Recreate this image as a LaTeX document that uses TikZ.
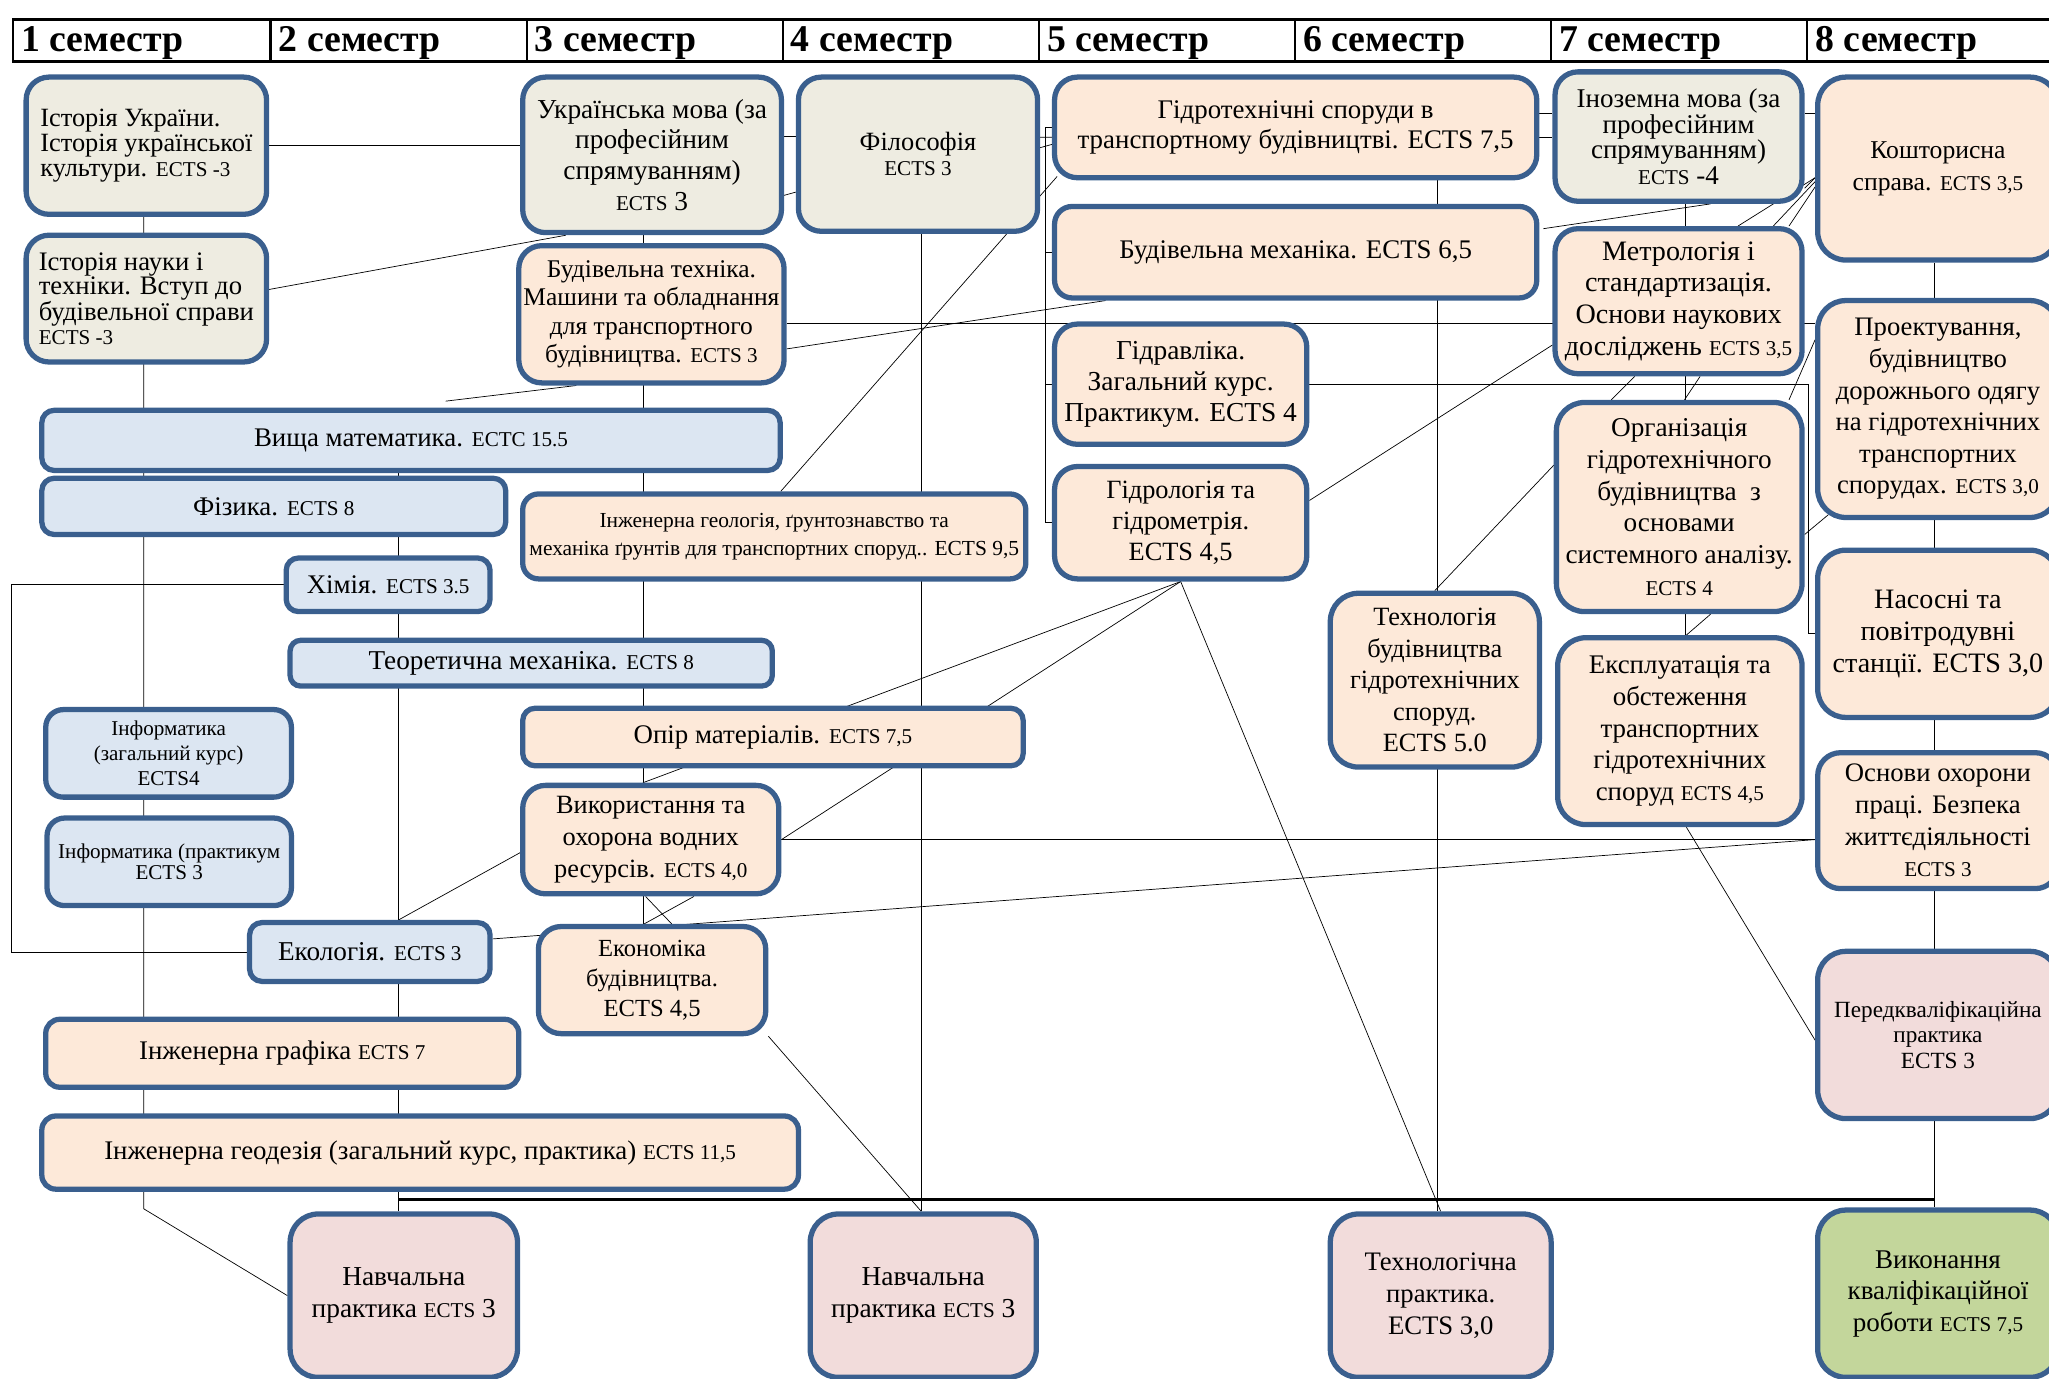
\documentclass[tikz,border=0pt]{standalone}
\usepackage{fontspec}
\setmainfont{Liberation Serif}
\usetikzlibrary{backgrounds}

\definecolor{kraj}{HTML}{3A5F8E}
\definecolor{zagfill}{HTML}{EEECE1}
\definecolor{proffill}{HTML}{FDE9D9}
\definecolor{fundfill}{HTML}{DCE6F2}
\definecolor{praktfill}{HTML}{F2DCDB}
\definecolor{atestfill}{HTML}{C3D69B}

\newcommand{\kfont}[2]{\fontsize{#1}{#2}\selectfont}
\newcommand{\ectsf}{\fontsize{12}{14}\selectfont}
\newcommand{\ed}{0.026136cm}

\tikzset{
    kurs/.style={draw=kraj, line width=3pt, rounded corners=#1, inner sep=0pt, align=center, font=\kfont{15.3}{18}},
    kurs/.default=13pt,
    razm/.style 2 args={minimum width=#1*\ed, minimum height=#2*\ed},
    zag/.style={fill=zagfill},
    prof/.style={fill=proffill},
    fund/.style={fill=fundfill},
    prakt/.style={fill=praktfill},
    atest/.style={fill=atestfill},
    zv/.style={line width=0.9pt},
    sem/.style={anchor=west, inner sep=0pt, font=\bfseries\kfont{21.5}{24}}
}

\begin{document}
\begin{tikzpicture}[x=\ed, y=-\ed]

    \useasboundingbox (0,0) rectangle (1568,1055);

    % semester header
    \draw[line width=1.6pt] (10,15) rectangle (1590,47);
    \draw[line width=1.2pt] (207,15) -- (207,47) (403,15) -- (403,47) (599,15) -- (599,47) (795,15) -- (795,47)
        (991,15) -- (991,47) (1187,15) -- (1187,47) (1383,15) -- (1383,47);
    \node[sem] (sem1) at (16,33) {1 семестр};
    \node[sem] (sem2) at (213,33) {2 семестр};
    \node[sem] (sem3) at (409,33) {3 семестр};
    \node[sem] (sem4) at (605,33) {4 семестр};
    \node[sem] (sem5) at (801,33) {5 семестр};
    \node[sem] (sem6) at (997,33) {6 семестр};
    \node[sem] (sem7) at (1193,33) {7 семестр};
    \node[sem] (sem8) at (1389,33) {8 семестр};

    % bus coordinates
    \coordinate (c0) at (9,0);
    \coordinate (c1) at (110,0);
    \coordinate (c2) at (305,0);
    \coordinate (c3) at (492,0);
    \coordinate (c4) at (705,0);
    \coordinate (c5) at (800,0);
    \coordinate (c6) at (1100,0);
    \coordinate (c7) at (1290,0);
    \coordinate (c8) at (1480,0);
    \coordinate (c9) at (1384,0);
    \coordinate (r1) at (0,247.5);
    \coordinate (r2) at (0,918);

    % general courses
    \node[kurs, zag, razm={184}{105}, align=left, font=\kfont{15}{14}] (istukr) at (112,111.5) {Історія України.\\Історія української\\культури. {\ectsf ECTS -3}};
    \node[kurs, zag, razm={184}{97}, align=left, font=\kfont{15.2}{13.6}] (istnauk) at (112,228.5) {Історія науки і\\техніки. Вступ до\\будівельної справи\\{\ectsf ECTS -3}};
    \node[kurs, zag, razm={198}{119}, font=\kfont{15.6}{17.5}] (ukrmova) at (499,118.5) {Українська мова (за\\професійним\\спрямуванням)\\{\ectsf ECTS} 3};
    \node[kurs, zag, razm={183}{118}, font=\kfont{15}{14}] (filos) at (702.5,118) {Філософія\\{\ectsf ECTS 3}};
    \node[kurs, zag, razm={189}{99}, font=\kfont{15.4}{14.5}] (inozem) at (1284.5,104.5) {Іноземна мова (за\\професійним\\спрямуванням)\\{\ectsf ECTS} -4};

    % professional courses
    \node[kurs, prof, razm={369}{77}, font=\kfont{15.3}{17.5}] (gidrospor) at (991.5,97.5) {Гідротехнічні споруди в\\транспортному будівництві. ECTS 7,5};
    \node[kurs=16pt, prof, razm={184}{140}, font=\kfont{14.6}{18}] (koshtor) at (1483,129) {Кошторисна\\справа. {\ectsf ECTS 3,5}};
    \node[kurs, prof, razm={203}{105}, font=\kfont{14.5}{16}] (budtekh) at (498.5,240.5) {Будівельна техніка.\\Машини та обладнання\\для транспортного\\будівництва. {\ectsf ECTS 3}};
    \node[kurs=10pt, prof, razm={369}{70}] (budmekh) at (991.5,193) {Будівельна механіка. ECTS 6,5};
    \node[kurs, prof, razm={189}{111}, font=\kfont{16}{18}] (metrol) at (1284.5,230.5) {Метрологія і\\стандартизація.\\Основи наукових\\досліджень {\ectsf ECTS 3,5}};
    \node[kurs=16pt, prof, razm={184}{166}, font=\kfont{15.2}{18}] (proekt) at (1483,313) {Проектування,\\будівництво\\дорожнього одягу\\на гідротехнічних\\транспортних\\спорудах. {\ectsf ECTS 3,0}};
    \node[kurs, prof, razm={193}{92}, font=\kfont{15.6}{17.5}] (gidravl) at (903.5,294) {Гідравліка.\\Загальний курс.\\Практикум. ECTS 4};
    \node[kurs, prof, razm={193}{86}, font=\kfont{15}{17.5}] (gidrol) at (903.5,400) {Гідрологія та\\гідрометрія.\\ECTS 4,5};
    \node[kurs=9pt, prof, razm={385}{65}, font=\kfont{12.2}{16}] (inzhgeol) at (592.5,410.5) {Інженерна геологія, ґрунтознавство та\\механіка ґрунтів для транспортних споруд.. ECTS 9,5};
    \node[kurs=16pt, prof, razm={188}{160}, font=\kfont{15.5}{18}] (orhan) at (1285,388) {Організація\\гідротехнічного\\будівництва\ \ з\\основами\\системного аналізу.\\{\ectsf ECTS 4}};
    \node[kurs=16pt, prof, razm={184}{128}, font=\kfont{16}{18}] (nasosni) at (1483,485) {Насосні та\\повітродувні\\станції. ECTS 3,0};
    \node[kurs=16pt, prof, razm={160}{133}, font=\kfont{15}{18}] (tekhnol) at (1098,520.5) {Технологія\\будівництва\\гідротехнічних\\споруд.\\ECTS 5.0};
    \node[kurs=16pt, prof, razm={187}{143}, font=\kfont{15.3}{18}] (ekspl) at (1285.5,559.5) {Експлуатація та\\обстеження\\транспортних\\гідротехнічних\\споруд {\ectsf ECTS 4,5}};
    \node[kurs=7pt, prof, razm={383}{44}] (opir) at (591.5,564) {Опір матеріалів. {\ectsf ECTS 7,5}};
    \node[kurs, prof, razm={184}{104}, font=\kfont{15.2}{18}] (okhorpr) at (1483,628) {Основи охорони\\праці. Безпека\\життєдіяльності\\{\ectsf ECTS 3}};
    \node[kurs, prof, razm={196}{83}, font=\kfont{15}{18}] (vykor) at (498,642.5) {Використання та\\охорона водних\\ресурсів. {\ectsf ECTS 4,0}};
    \node[kurs, prof, razm={174}{82}, font=\kfont{14}{17}] (ekonom) at (499,750) {Економіка\\будівництва.\\ECTS 4,5};
    \node[kurs=8pt, prof, razm={362}{52}] (inzhgraf) at (216,806) {Інженерна графіка {\ectsf ECTS 7}};
    \node[kurs=8pt, prof, razm={579}{56}] (inzhgeod) at (321.5,882) {Інженерна геодезія (загальний курс, практика) {\ectsf ECTS 11,5}};

    % fundamental courses
    \node[kurs=7pt, fund, razm={565}{46}] (vyshmat) at (314.5,337) {Вища математика. {\ectsf ECTC 15.5}};
    \node[kurs=7pt, fund, razm={355}{43}] (fizyka) at (209.5,387.5) {Фізика. {\ectsf ECTS 8}};
    \node[kurs=7pt, fund, razm={156}{41}] (khimiya) at (297,447.5) {Хімія. {\ectsf ECTS 3.5}};
    \node[kurs=6pt, fund, razm={369}{35}, font=\kfont{15.5}{18}] (teormekh) at (406.5,507.5) {Теоретична механіка. {\ectsf ECTS 8}};
    \node[kurs=10pt, fund, razm={188}{67}, font=\kfont{12}{14}] (infzag) at (129,576.5) {Інформатика\\(загальний курс)\\ECTS4};
    \node[kurs=10pt, fund, razm={187}{67}, font=\kfont{12}{12}] (infpr) at (129.5,659.5) {Інформатика (практикум\\ECTS 3};
    \node[kurs=7pt, fund, razm={184}{45}, font=\kfont{15.5}{18}] (ekol) at (283,728.5) {Екологія. {\ectsf ECTS 3}};

    % practice and final work
    \node[kurs=16pt, prakt, razm={184}{128}, font=\kfont{13.2}{14.3}] (peredkv) at (1483,792) {Передкваліфікаційна\\практика\\ECTS 3};
    \node[kurs=16pt, prakt, razm={174}{125}, font=\kfont{15.6}{18}] (navch1) at (309,991.5) {Навчальна\\практика {\ectsf ECTS} 3};
    \node[kurs=16pt, prakt, razm={173}{125}, font=\kfont{15.6}{18}] (navch2) at (706.5,991.5) {Навчальна\\практика {\ectsf ECTS} 3};
    \node[kurs=16pt, prakt, razm={169}{125}, font=\kfont{15.2}{18}] (tekhpr) at (1102.5,991.5) {Технологічна\\практика.\\ECTS 3,0};
    \node[kurs=16pt, atest, razm={184}{128}, font=\kfont{15.4}{18}] (kvalrob) at (1483,990) {Виконання\\кваліфікаційної\\роботи {\ectsf ECTS 7,5}};

    \begin{scope}[on background layer, zv]
        % vertical lines through the columns
        \draw (istukr.south -| c1) -- (inzhgeod.south -| c1) -- ++(0,13) -- (navch1.west);
        \draw (vyshmat.south -| c2) -- (navch1.north -| c2);
        \draw (ukrmova.south -| c3) -- (ekonom.north -| c3);
        \draw (filos.south -| c4) -- (navch2.north -| c4);
        \draw (gidrospor.south -| c6) -- (tekhpr.north -| c6);
        \draw (inozem.south -| c7) -- (ekspl.north -| c7);
        \draw (koshtor.south -| c8) -- (kvalrob.north -| c8);
        \draw[line width=1.4pt] (c2 |- r2) -- (c8 |- r2);

        % semesters 1-4
        \draw (istukr.east) -- (istukr.east -| ukrmova.west);
        \draw ([shift={(0,-7)}]istnauk.east) -- ([shift={(35,0)}]ukrmova.south west);
        \draw ([shift={(0,-14)}]ukrmova.east) -- ([shift={(0,-14)}]ukrmova.east -| filos.west);
        \draw ([shift={(0,31)}]ukrmova.east) -- ([shift={(0,29)}]filos.west);
        \draw (budtekh.east |- r1) -- (proekt.west |- r1);
        \draw ([shift={(0,26.5)}]budtekh.east) -- ([shift={(41,0)}]budmekh.south west);
        \draw ([shift={(46,0)}]budtekh.south west) -- ([shift={(26.5,-5)}]vyshmat.north);
        \draw (khimiya.west) -- (khimiya.west -| c0) -- (ekol.west -| c0) -- (ekol.west);

        % semesters 4-5
        \draw ([shift={(0,-13)}]filos.east) -- ([shift={(0,7.5)}]gidrospor.west);
        \draw ([shift={(0,-5)}]filos.east) -- ([shift={(0,13)}]gidrospor.west);
        \draw ([shift={(4,-3)}]gidrospor.south west) -- ([shift={(5,0)}]inzhgeol.north);
        \draw (gidrospor.west) -- (gidrospor.west -| c5) -- (gidrol.west -| c5) -- (gidrol.west);
        \draw (budmekh.west) -- (budmekh.west -| c5);
        \draw (gidravl.west) -- (gidravl.west -| c5);

        % semesters 5-8
        \draw ([shift={(0,-10.5)}]gidrospor.east) -- ([shift={(0,-10.5)}]gidrospor.east -| inozem.west);
        \draw ([shift={(0,7.5)}]gidrospor.east) -- ([shift={(0,7.5)}]gidrospor.east -| inozem.west);
        \draw ([shift={(0,-18)}]inozem.east) -- ([shift={(0,-18)}]inozem.east -| koshtor.west);
        \draw ([shift={(3,-18)}]budmekh.east) -- ([shift={(24.5,0)}]inozem.south);
        \draw ([shift={(0,7)}]koshtor.west) -- ([shift={(45.5,0)}]metrol.north);
        \draw ([shift={(0,10)}]koshtor.west) -- ([shift={(72.5,0)}]metrol.north);
        \draw ([shift={(0,14)}]koshtor.west) -- ([shift={(84.5,0)}]metrol.north);
        \draw ([shift={(0,7)}]koshtor.west) -- ([shift={(0,-12)}]inozem.south east);
        \draw ([shift={(-33.5,0)}]metrol.south) -- ([shift={(-52,0)}]orhan.north);
        \draw ([shift={(16.5,0)}]metrol.south) -- ([shift={(4,0)}]orhan.north);
        \draw (gidravl.east) -- (gidravl.east -| c9) -- (nasosni.west -| c9) -- (nasosni.west);
        \draw ([shift={(0,-17)}]gidrol.east) -- ([shift={(0,33.5)}]metrol.west);
        \draw ([shift={(0,-32)}]orhan.west) -- (tekhnol.north);
        \draw ([shift={(0,-53)}]proekt.west) -- ([shift={(-12,0)}]orhan.north east);
        \draw ([shift={(0,21)}]orhan.east) -- ([shift={(10,-4)}]proekt.south west);
        \draw ([shift={(24,0)}]orhan.south) -- ([shift={(5,0)}]ekspl.north);
        \draw ([shift={(5,0)}]ekspl.south) -- ([shift={(0,4)}]peredkv.west);

        % lower part
        \draw (vykor.north -| c3) -- (gidrol.south);
        \draw (vykor.east) -- (gidrol.south);
        \draw (gidrol.south) -- (tekhpr.north);
        \draw (vykor.east) -- (vykor.east -| okhorpr.west);
        \draw ([shift={(0,-10)}]ekol.east) -- (vykor.east -| okhorpr.west);
        \draw (ekol.north -| c2) -- ([shift={(0,10)}]vykor.west);
        \draw ([shift={(-4,0)}]vykor.south) -- ([shift={(15,0)}]ekonom.north);
        \draw ([shift={(33,0)}]vykor.south) -- ([shift={(-6,0)}]ekonom.north);
        \draw (ekonom.south east) -- (navch2.north -| c4);
    \end{scope}

\end{tikzpicture}
\end{document}
